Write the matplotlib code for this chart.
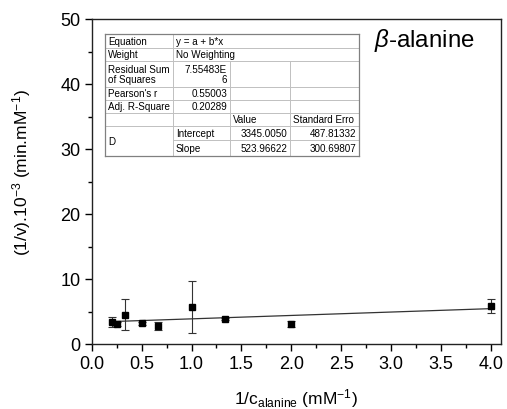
import matplotlib
matplotlib.use("Agg")
import matplotlib.pyplot as plt
import numpy as np
from matplotlib.lines import Line2D

plt.rcParams['font.family'] = ['Liberation Sans', 'DejaVu Sans']
plt.rcParams['mathtext.fontset'] = 'custom'
plt.rcParams['mathtext.rm'] = 'Liberation Sans'
plt.rcParams['mathtext.it'] = 'Liberation Sans:italic'
plt.rcParams['mathtext.bf'] = 'Liberation Sans:bold'

# ---- data ----
inv_c = [0.2, 0.25, 0.333, 0.5, 0.667, 1.0, 1.333, 2.0, 4.0]
inv_v = [3.42, 3.07, 4.5, 3.17, 2.76, 5.67, 3.83, 3.07, 5.83]
inv_v_err = [0.8, 0.3, 2.4, 0.25, 0.65, 4.0, 0.2, 0.5, 1.1]

fit_intercept = 3345.0050
fit_slope = 523.96622
fit_intercept_err = 487.81332
fit_slope_err = 300.69807
rss_text = "7.55483E\n6"
pearson_r = "0.55003"
adj_r2 = "0.20289"

# ---- figure ----
W, H = 507, 410
fig = plt.figure(figsize=(W / 100, H / 100), dpi=100)
L, R, T, B = 91.7, 501.0, 20.0, 345.0
ax = fig.add_axes([L / W, (H - B) / H, (R - L) / W, (B - T) / H])

ax.errorbar(inv_c, inv_v, yerr=inv_v_err, fmt='s', color='black', ms=4.5,
            ecolor='#333333', elinewidth=0.8, capsize=3, capthick=0.8, zorder=3)
xl = np.array([min(inv_c), max(inv_c)])
ax.plot(xl, (fit_intercept + fit_slope * xl) / 1000.0, color='#333333', lw=0.9, zorder=2)

ax.set_xlim(0, 4.1)
ax.set_ylim(0, 50)
ax.set_xticks(np.arange(0, 4.01, 0.5))
ax.set_xticks(np.arange(0, 4.01, 0.25), minor=True)
ax.set_yticks(np.arange(0, 50.1, 10))
ax.set_yticks(np.arange(0, 50.1, 5), minor=True)
ax.tick_params(which='major', direction='out', length=5, width=1.0, labelsize=13, pad=3)
ax.tick_params(which='minor', direction='out', length=3, width=1.0)
ax.tick_params(top=False, right=False)
for s in ax.spines.values():
    s.set_linewidth(1.0)
    s.set_color('#222222')

def fx(px):
    return (px - L) / (R - L)

def fy(py):
    return (B - py) / (B - T)

ax.set_ylabel(r"(1/v).10$^{-3}$ (min.mM$^{-1}$)", fontsize=12.5)
ax.yaxis.set_label_coords(fx(33), fy(173))
ax.set_xlabel(r"1/c$_{\mathrm{alanine}}$ (mM$^{-1}$)", fontsize=12.5, labelpad=10)

ax.text(fx(374), fy(47), r"$\it{\beta}$-alanine", fontsize=17.3, transform=ax.transAxes,
        ha='left', va='baseline')

# ---- stats table ----
cols = [105, 173, 230, 290, 359]
rows = [35, 49, 62, 88, 101, 114, 127, 141, 157]
inner = '#c0c0c0'
outer = '#808080'
tr = ax.transAxes

def hline(y, x0, x1, c=inner, lw=0.7):
    ax.add_line(Line2D([fx(x0), fx(x1)], [fy(y), fy(y)], transform=tr, color=c, lw=lw, zorder=5))

def vline(x, y0, y1, c=inner, lw=0.7):
    ax.add_line(Line2D([fx(x), fx(x)], [fy(y0), fy(y1)], transform=tr, color=c, lw=lw, zorder=5))

for i in range(1, 7):
    hline(rows[i], cols[0], cols[4])
hline(rows[7], cols[1], cols[4])
vline(cols[1], rows[0], rows[8])
vline(cols[2], rows[2], rows[8])
vline(cols[3], rows[2], rows[8])
hline(rows[0], cols[0], cols[4], outer, 0.9)
hline(rows[8], cols[0], cols[4], outer, 0.9)
vline(cols[0], rows[0], rows[8], outer, 0.9)
vline(cols[4], rows[0], rows[8], outer, 0.9)

fs = 7.1
pad = 3

def cell_text(txt, c, r0, r1=None, align='left', ls=1.0):
    if r1 is None:
        r1 = r0 + 1
    ym = (rows[r0] + rows[r1]) / 2
    x = cols[c] + pad if align == 'left' else cols[c + 1] - pad
    ax.text(fx(x), fy(ym), txt, transform=tr, fontsize=fs, ha=align, va='center',
            linespacing=ls, zorder=6)

cell_text("Equation", 0, 0)
cell_text("y = a + b*x", 1, 0)
cell_text("Weight", 0, 1)
cell_text("No Weighting", 1, 1)
cell_text("Residual Sum\nof Squares", 0, 2, ls=1.05)
ax.text(fx(cols[2] - pad), fy((rows[2] + rows[3]) / 2), rss_text, transform=tr, fontsize=fs,
        ha='right', va='center', multialignment='right', linespacing=1.05, zorder=6)
cell_text("Pearson's r", 0, 3)
cell_text(pearson_r, 1, 3, align='right')
cell_text("Adj. R-Square", 0, 4)
cell_text(adj_r2, 1, 4, align='right')
cell_text("Value", 2, 5)
cell_text("Standard Erro", 3, 5)
cell_text("D", 0, 6, 8)
cell_text("Intercept", 1, 6)
cell_text("Slope", 1, 7)
cell_text(f"{fit_intercept:.4f}", 2, 6, align='right')
cell_text(f"{fit_slope:.5f}", 2, 7, align='right')
cell_text(f"{fit_intercept_err:.5f}", 3, 6, align='right')
cell_text(f"{fit_slope_err:.5f}", 3, 7, align='right')

fig.savefig("out.png", dpi=100)
